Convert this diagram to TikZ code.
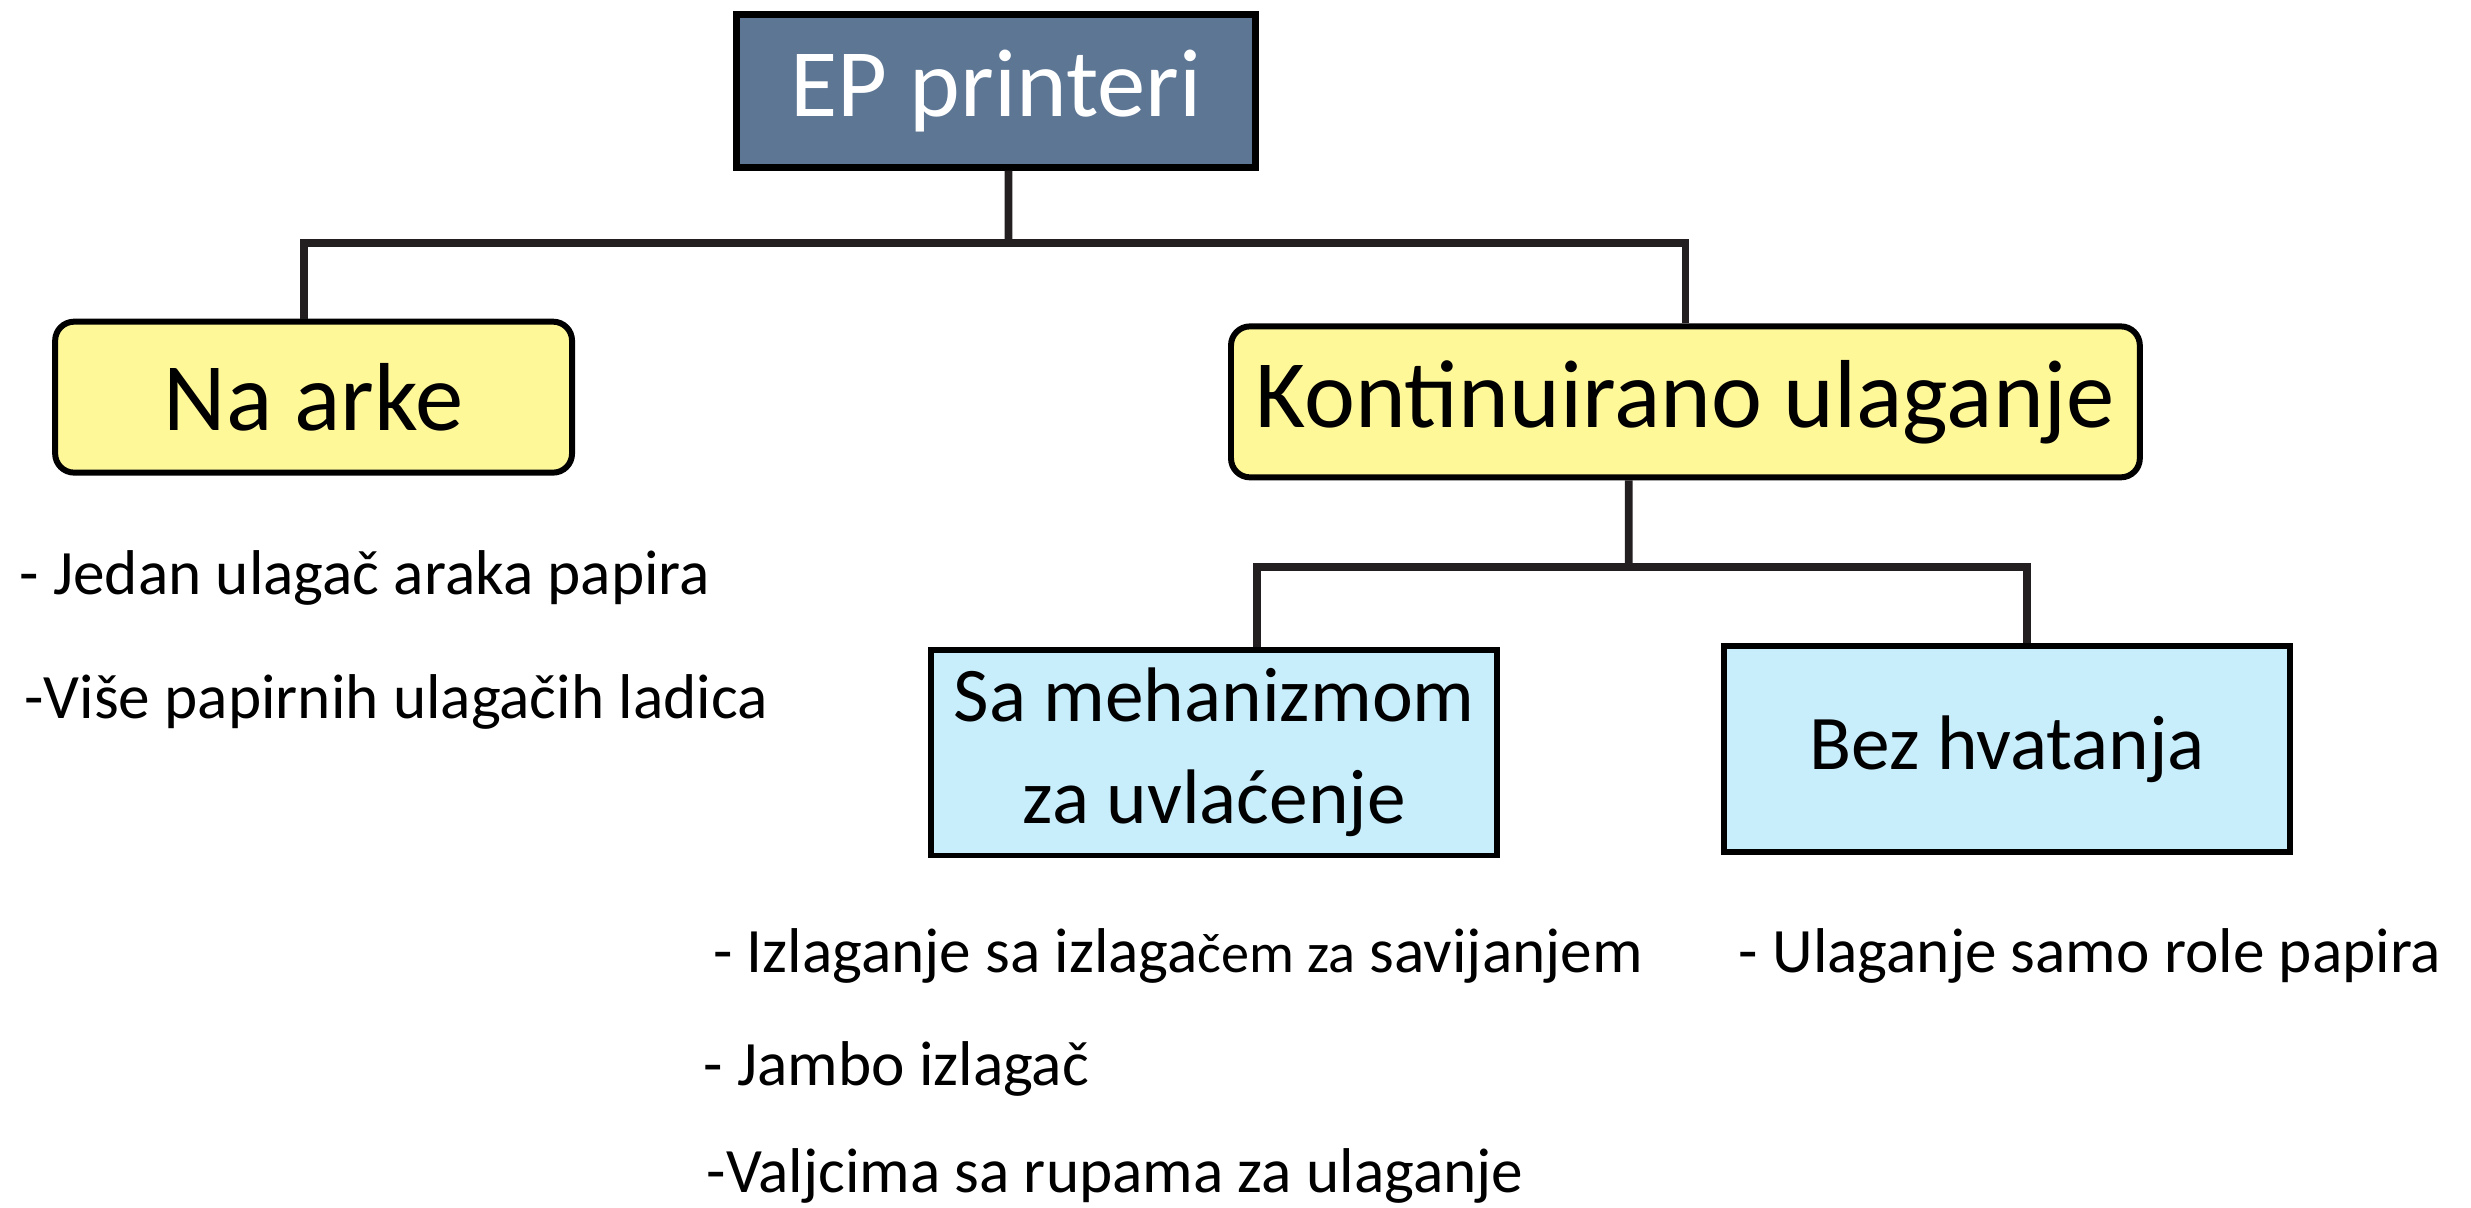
\documentclass[tikz,border=0pt]{standalone}
\usepackage{fontspec}
\setmainfont{Carlito}
\usetikzlibrary{positioning}
\definecolor{slate}{HTML}{5C7694}
\definecolor{paleyellow}{HTML}{FFF899}
\definecolor{paleblue}{HTML}{C8EEFC}
\definecolor{wire}{HTML}{231F20}

\begin{document}
\begin{tikzpicture}[x=0.01576cm, y=-0.01576cm,
    rootbox/.style={draw=black, line width=2pt, fill=slate, text=white,
      minimum width=5.2cm, minimum height=1.53cm, inner sep=0pt,
      font=\fontsize{27.5}{30}\selectfont},
    catbox/.style={draw=black, line width=1.7pt, fill=paleyellow,
      rounded corners=0.19cm, minimum height=1.51cm, inner sep=0pt,
      font=\fontsize{27.5}{30}\selectfont},
    subbox/.style={draw=black, line width=1.7pt, fill=paleblue,
      minimum width=5.66cm, minimum height=2.06cm, inner sep=0pt, align=center,
      font=\fontsize{22}{29}\selectfont},
    note/.style={anchor=base west, inner sep=0pt, font=\fontsize{18}{20}\selectfont},
    conn/.style={draw=wire, line width=2.2pt}]
      \useasboundingbox (0,0) rectangle (1568,766);
      % boxes
      \node [rootbox] (root) at (632,57.5) {EP printeri};
      \node [catbox, minimum width=5.17cm] (arke) at (199,252) {Na arke};
      \node [catbox, minimum width=9.09cm] (kont) at (1069.5,255) {Kontinuirano ulaganje};
      \node [subbox] (mehan) at (770.5,477.5) {Sa mehanizmom\\za uvlaćenje};
      \node [subbox] (bez) at (1273.5,475.5) {Bez hvatanja};
      % connectors
      \path (root.south) ++(8,46) coordinate (topbus);
      \draw [conn] ([xshift=0.126cm]root.south) -- (topbus);
      \draw [conn] ([xshift=-0.095cm]arke.north) |- (topbus) -| (kont.north);
      \path (kont.south) ++(-36,55) coordinate (subbus);
      \draw [conn] ([xshift=-0.567cm]kont.south) -- (subbus);
      \draw [conn] ([xshift=0.43cm]mehan.north) |- (subbus) -| ([xshift=0.2cm]bez.north);
      % notes
      \node [note] (arke1) at (12,377) {- Jedan ulagač araka papira};
      \node [note] (arke2) at (15,456) {-Više papirnih ulagačih ladica};
      \node [note] (mehan1) at (452,617) {- Izlaganje sa izlaga{\fontsize{16}{18}\selectfont čem za} savijanjem};
      \node [note] (mehan2) at (446,689) {- Jambo izlagač};
      \node [note] (mehan3) at (448,757) {-Valjcima sa rupama za ulaganje};
      \node [note] (bez1) at (1103,617) {- Ulaganje samo role papira};
\end{tikzpicture}
\end{document}
